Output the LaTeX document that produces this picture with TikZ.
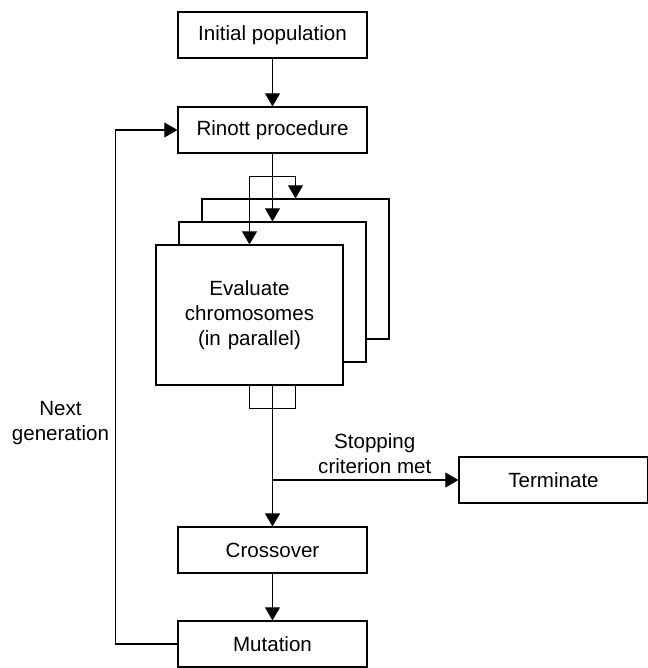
\documentclass[tikz,border=0pt]{standalone}
\usepackage{fontspec}
\setmainfont{Liberation Sans}
\usetikzlibrary{arrows.meta,positioning}
\tikzstyle{blk} = [rectangle, draw, fill=white, minimum width=3.78cm,
    minimum height=0.92cm, inner sep=0pt, text centered]
\tikzstyle{par} = [blk, minimum width=3.74cm, minimum height=2.8cm,
    text width=3.2cm, align=center]

\begin{document}
\begin{tikzpicture}[>={Triangle[length=7.5pt,width=8.5pt]},line width=0.6pt,
                    node distance=1.9cm,font=\fontsize{11.7}{14.2}\selectfont]
  \useasboundingbox (0,0) rectangle (12.96,-13.36);

  \node[blk]   (init)   at (5.45,-0.70)   {Initial population};
  \node[blk]   (rinott) [below of=init]  {Rinott procedure};
  \node[par]   (back)   [below of=rinott,node distance=3.24cm,xshift=0.46cm,yshift=0.46cm] {};
  \node[par]   (mid)    [below of=rinott,node distance=3.24cm] {};
  \node[par]   (front)  [below of=rinott,node distance=3.24cm,xshift=-0.46cm,yshift=-0.46cm]
                        {Evaluate\\chromosomes\\(in parallel)};
  \node[blk]   (cross)  [below of=mid,node distance=5.16cm] {Crossover};
  \node[blk]   (mut)    [below of=cross,node distance=1.88cm] {Mutation};
  \node[blk]   (term)   [right of=cross,node distance=5.62cm,yshift=1.4cm] {Terminate};

  % fan out to the parallel evaluations
  \coordinate (split) at ([yshift=-0.46cm]rinott.south);
  \coordinate (join)  at ([yshift=-0.46cm]front.south);
  \draw[->] (init) -- (rinott);
  \draw[line width=0.8pt] (rinott.south) -- (split);
  \draw[->] (split) -| (front.north);
  \draw[->] (split) -| (back.north);
  \draw[->] (split) -- (mid.north);
  \draw (front.south) -- (join) -| (back |- front.south);

  \draw[->,line width=1.1pt] (mid |- front.south) -- (cross);
  \draw[->] (mid |- term.west) -- node[above,pos=0.55,align=center] (stoplbl)
        {Stopping\\criterion met} (term);
  \draw[->] (cross) -- (mut);
  \draw[->] (mut.west) -- ++(-1.24,0) |- node[left,pos=0.215,align=center] (nextlbl)
        {Next\\generation} (rinott.west);
\end{tikzpicture}
\end{document}
